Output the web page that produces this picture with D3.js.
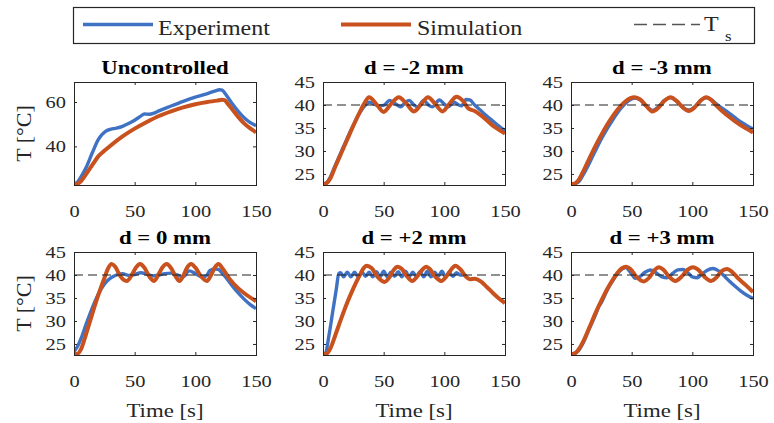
<!DOCTYPE html>
<html>
<head>
<meta charset="utf-8">
<script src="https://cdn.jsdelivr.net/npm/d3@7"></script>
</head>
<body style="margin:0;background:#fff">
<script>
// ---- data ----
const titles = ["Uncontrolled", "d = -2 mm", "d = -3 mm", "d = 0 mm", "d = +2 mm", "d = +3 mm"];
const xTicks = [0, 50, 100, 150];
const yTicksFree = [40, 60];
const yTicksCtrl = [25, 30, 35, 40, 45];
const setPoint = 40;

// Uncontrolled
const expT1 = [0, 3, 6, 10, 15, 20, 23, 26, 30, 35, 40, 45, 50, 55, 58, 62, 66, 70, 80, 90, 100, 110, 116, 120, 122, 125, 130, 135, 140, 145, 150];
const expY1 = [23, 24, 26.5, 30.5, 37, 43, 45.3, 46.8, 47.7, 48.2, 49, 50.3, 51.8, 53.6, 54.6, 54.5, 55, 56, 58.2, 60.3, 62.2, 63.8, 64.9, 65.5, 65.3, 63.5, 59.5, 56, 53, 50.8, 49.3];
const simT1 = [0, 3, 6, 10, 15, 20, 25, 30, 40, 50, 60, 70, 80, 90, 100, 110, 118, 122, 124, 127, 130, 135, 140, 145, 150];
const simY1 = [23, 23.2, 24.5, 27.5, 31.5, 35.5, 38, 40.3, 44.5, 48, 51, 53.7, 55.8, 57.6, 59, 60, 60.6, 61, 60.8, 59, 57, 53.5, 50.5, 48.2, 46.3];

// d = -2 mm
const expT2 = [0, 3, 6, 10, 15, 20, 25, 30, 35, 38, 42, 46, 50, 55, 60, 64, 68, 71, 75, 78, 83, 87, 90, 96, 100, 103, 108, 112, 114, 118, 121, 125, 130, 135, 140, 145, 150];
const expY2 = [22.8, 23.1, 24.3, 26.8, 29.8, 32.8, 35.6, 38.2, 40, 40.6, 40.2, 39.8, 39.9, 41, 40.2, 39.6, 40.6, 41, 40, 39.6, 41, 40, 39.6, 41.1, 40.2, 39.6, 40.6, 40, 39.8, 41.2, 41.1, 40, 38.8, 37.6, 36.5, 35.4, 34.4];
const simT2 = [0, 3, 6, 10, 15, 20, 25, 30, 34, 38, 44, 50, 56, 62.5, 69, 75, 81, 86.5, 92.5, 98.5, 104, 110, 115, 120, 125, 130, 135, 140, 145, 150];
const simY2 = [22.8, 23, 24, 26.5, 29.5, 32.5, 35.5, 38.3, 40.3, 41.7, 40.2, 38.5, 40.2, 41.7, 40.2, 38.6, 40.2, 41.7, 40.2, 38.6, 40.2, 41.8, 41, 39.2, 38.7, 37.8, 36.7, 35.5, 34.6, 33.8];

// d = -3 mm
const expT3 = [0, 3, 6, 10, 15, 20, 25, 30, 35, 40, 45, 50, 53, 57, 62, 67, 72, 77, 82, 87, 92, 97, 102, 107, 112, 116, 120, 125, 130, 135, 140, 145, 150];
const expY3 = [22.8, 22.9, 23.2, 24.8, 27.3, 30, 32.6, 34.9, 37, 38.9, 40.4, 41.3, 41.5, 41.1, 39.8, 38.8, 39.6, 41, 41.6, 40.8, 39.5, 38.9, 39.6, 41, 41.6, 41.1, 40.2, 39.2, 38.3, 37.3, 36.3, 35.5, 34.8];
const simT3 = [0, 3, 6, 10, 15, 20, 25, 30, 35, 40, 45, 49, 52.5, 57, 62, 67, 72, 77, 82, 87, 92, 97, 102, 107, 111.5, 116, 120, 125, 130, 135, 140, 145, 150];
const simY3 = [22.8, 22.9, 23.6, 25.5, 28.3, 31, 33.5, 35.8, 37.8, 39.5, 40.8, 41.5, 41.7, 41.2, 39.8, 38.6, 39.4, 40.9, 41.7, 40.9, 39.5, 38.7, 39.5, 41, 41.7, 41, 39.8, 38.6, 37.5, 36.5, 35.6, 34.8, 34];

// d = 0 mm
const expT4 = [0, 3, 6, 10, 15, 20, 25, 30, 35, 40, 45, 50, 55, 60, 65, 70, 75, 80, 85, 90, 95, 100, 105, 109, 112, 116, 119, 122, 126, 130, 135, 140, 145, 150];
const expY4 = [23.4, 24.5, 26.3, 29.3, 32.8, 35.8, 38, 39.3, 40, 40.3, 39.9, 40.1, 40.5, 40.2, 39.8, 40, 40.3, 40.4, 40, 39.6, 40.9, 40.3, 39.6, 39.8, 41, 41.3, 41.2, 40.4, 39.2, 37.8, 36.2, 34.8, 33.6, 32.7];
const simT4 = [0, 3, 6, 10, 15, 20, 25, 28, 31, 34, 38, 43.5, 48, 51, 54.5, 58, 62, 66, 70, 73, 76.5, 80, 84, 87, 90, 93, 96.5, 100, 105, 109.5, 113, 116, 119, 123, 128, 135, 142, 150];
const simY4 = [22.8, 22.9, 24, 27.2, 31.5, 35.6, 39.3, 41.4, 42.4, 41.8, 39.8, 38.7, 40.2, 41.6, 42.4, 41.6, 39.7, 38.7, 40.3, 41.7, 42.4, 41.5, 39.6, 38.7, 39.8, 41.5, 42.4, 41.6, 39.6, 38.7, 40, 41.6, 42.4, 41.2, 39.2, 37.2, 35.7, 34.3];

// d = +2 mm
const expT5 = [0, 2, 5, 8, 11, 13, 14.5, 17, 20, 23, 26, 29, 32, 35, 38, 41, 44, 47, 50, 53, 56, 59, 62, 65, 68, 71, 74, 77, 80, 83, 86, 89, 92, 95, 98, 101, 104, 107, 110, 113, 116];
const expY5 = [22.8, 23, 27, 32, 37, 40.3, 40.5, 39.6, 40.6, 39.6, 40.6, 39.6, 40.7, 39.7, 40.6, 39.6, 40.7, 39.6, 40.8, 39.6, 40.6, 39.7, 40.7, 39.6, 40.8, 39.6, 40.6, 39.7, 40.7, 39.6, 40.8, 39.6, 40.6, 39.7, 40.8, 39.6, 40.6, 39.7, 40.5, 40, 40];
const simT5 = [0, 3, 6, 10, 15, 20, 25, 30, 33, 36, 40, 45, 50.5, 55, 58, 61.5, 65, 69, 73.5, 78, 82, 85, 88, 92, 97.5, 102, 106, 109, 113, 118, 121, 125, 130, 135, 140, 145, 150];
const simY5 = [22.8, 22.9, 24, 26.8, 30.5, 34, 37.1, 39.8, 41.3, 42, 41.5, 39.6, 38.5, 39.6, 41, 41.8, 41.3, 39.8, 38.7, 39.8, 41.2, 41.8, 41.3, 39.8, 38.7, 39.8, 41.3, 42, 41.3, 39.6, 39.1, 39.2, 38.6, 37.4, 36.1, 34.9, 33.9];

// d = +3 mm
const expT6 = [0, 3, 6, 10, 15, 20, 23, 25, 30, 35, 40, 45, 49, 53, 57, 61, 65.5, 70, 75, 79, 84, 88, 92, 96, 100, 104, 108, 112, 117, 121, 125, 130, 135, 140, 145, 150];
const expY6 = [22.8, 23, 23.5, 25.2, 28.3, 31.2, 33.2, 34, 36.8, 39, 40.8, 41.6, 40.6, 39.3, 39.7, 40.6, 41.1, 40.5, 39.6, 39.4, 40.4, 41.1, 41.2, 40.6, 39.6, 39.4, 40.2, 41, 41.4, 41, 40.1, 38.8, 37.6, 36.5, 35.6, 34.9];
const simT6 = [0, 3, 6, 10, 15, 20, 25, 30, 35, 40, 43, 45.5, 49, 54, 60, 65, 69, 72.5, 76, 81, 86, 91, 96, 100.5, 105, 110, 115.5, 120, 124, 128.5, 133, 138, 144, 150];
const simY6 = [22.8, 22.9, 23.7, 25.5, 28.5, 31.6, 34.4, 37, 39.2, 41, 41.6, 41.8, 41.3, 39.6, 38.6, 39.6, 41.1, 41.7, 41.2, 39.6, 38.7, 39.6, 41.1, 41.7, 41.1, 39.6, 38.7, 39.5, 40.8, 41.3, 40.6, 39.2, 37.8, 36.3];

const pair = (ts, ys) => ts.map((t, i) => [t, ys[i]]);
const panels = [
  { title: titles[0], exp: pair(expT1, expY1), sim: pair(simT1, simY1), yDomain: [22.6, 69], yTicks: yTicksFree, ts: false },
  { title: titles[1], exp: pair(expT2, expY2), sim: pair(simT2, simY2), yDomain: [22.6, 45], yTicks: yTicksCtrl, ts: true },
  { title: titles[2], exp: pair(expT3, expY3), sim: pair(simT3, simY3), yDomain: [22.6, 45], yTicks: yTicksCtrl, ts: true },
  { title: titles[3], exp: pair(expT4, expY4), sim: pair(simT4, simY4), yDomain: [22.6, 45], yTicks: yTicksCtrl, ts: true },
  { title: titles[4], exp: pair(expT5, expY5), sim: pair(simT5, simY5), yDomain: [22.6, 45], yTicks: yTicksCtrl, ts: true },
  { title: titles[5], exp: pair(expT6, expY6), sim: pair(simT6, simY6), yDomain: [22.6, 45], yTicks: yTicksCtrl, ts: true }
];

const blue = "#4072c4";
const red = "#c8511d";
const axisColor = "#262626";
const serif = "'Liberation Serif', 'Times New Roman', serif";

// the reference figure is stretched sideways, so text gets a horizontal scale too
function serifText(sel, origin) {
  sel.style("font-family", serif)
    .style("fill", axisColor)
    .style("transform-box", "fill-box")
    .style("transform-origin", origin || "center")
    .style("transform", "scaleX(1.2)");
}

const svg = d3.select("body").append("svg").attr("width", 774).attr("height", 423);

const colLeft = [74, 323, 571];
const rowTop = [82, 252];
const pw = 182, ph = 103;

panels.forEach((p, i) => {
  const row = Math.floor(i / 3), col = i % 3;
  const g = svg.append("g").attr("transform", "translate(" + colLeft[col] + "," + rowTop[row] + ")");
  const x = d3.scaleLinear().domain([0, 150]).range([0, pw]);
  const y = d3.scaleLinear().domain(p.yDomain).range([ph, 0]);

  g.append("clipPath").attr("id", "clip" + i)
    .append("rect").attr("x", 0).attr("y", 0).attr("width", pw).attr("height", ph);

  const line = d3.line().x(d => x(d[0])).y(d => y(d[1])).curve(d3.curveMonotoneX);
  const plot = g.append("g").attr("clip-path", "url(#clip" + i + ")");
  plot.append("path").datum(p.exp).attr("d", line)
    .attr("fill", "none").attr("stroke", blue).attr("stroke-width", 3.4).attr("stroke-linejoin", "round");
  plot.append("path").datum(p.sim).attr("d", line)
    .attr("fill", "none").attr("stroke", red).attr("stroke-width", 4).attr("stroke-linejoin", "round");
  if (p.ts) {
    plot.append("line").attr("x1", 0).attr("x2", pw).attr("y1", y(setPoint)).attr("y2", y(setPoint))
      .attr("stroke", "#222").attr("stroke-width", 1.2).attr("stroke-dasharray", "9,5");
  }

  // axes, box style with inward ticks on all sides
  const styleAxis = a => {
    a.attr("font-size", 17).attr("font-family", null).attr("color", axisColor);
    a.select(".domain").remove();
  };
  g.append("g").attr("transform", "translate(0," + ph + ")")
    .call(d3.axisBottom(x).tickValues(xTicks).tickSizeInner(-3).tickSizeOuter(0).tickPadding(19.5))
    .call(styleAxis)
    .selectAll("text").call(serifText);
  g.append("g")
    .call(d3.axisTop(x).tickValues(xTicks).tickSizeInner(-3).tickSizeOuter(0).tickFormat(""))
    .call(styleAxis);
  g.append("g")
    .call(d3.axisLeft(y).tickValues(p.yTicks).tickSizeInner(-3).tickSizeOuter(0).tickPadding(8))
    .call(styleAxis)
    .selectAll("text").call(serifText, "right center");
  g.append("g").attr("transform", "translate(" + pw + ",0)")
    .call(d3.axisRight(y).tickValues(p.yTicks).tickSizeInner(-3).tickSizeOuter(0).tickFormat(""))
    .call(styleAxis);

  g.append("rect").attr("x", 0.5).attr("y", 0.5).attr("width", pw).attr("height", ph)
    .attr("fill", "none").attr("stroke", axisColor).attr("stroke-width", 1);

  g.append("text")
    .attr("x", pw / 2).attr("y", -8)
    .attr("text-anchor", "middle").attr("font-size", 19).attr("font-weight", "bold")
    .call(serifText)
    .style("fill", "#000")
    .text(p.title);

  if (col === 0) {
    g.append("text")
      .attr("transform", "translate(-43," + (ph / 2) + ") rotate(-90)")
      .attr("text-anchor", "middle").attr("font-size", 22)
      .style("font-family", serif).style("fill", axisColor)
      .text("T [°C]");
  }
  if (row === 1) {
    g.append("text")
      .attr("x", pw / 2).attr("y", ph + 62)
      .attr("text-anchor", "middle").attr("font-size", 19)
      .call(serifText)
      .text("Time [s]");
  }
});

// legend
const leg = svg.append("g");
leg.append("rect").attr("x", 73.5).attr("y", 7.5).attr("width", 681).attr("height", 36)
  .attr("fill", "#fff").attr("stroke", axisColor).attr("stroke-width", 1.2);
const legY = 24.5;
leg.append("line").attr("x1", 83).attr("x2", 153).attr("y1", legY).attr("y2", legY)
  .attr("stroke", blue).attr("stroke-width", 3.4);
leg.append("text").attr("x", 158).attr("y", 35).attr("font-size", 20)
  .call(serifText, "left center").text("Experiment");
leg.append("line").attr("x1", 341).attr("x2", 411).attr("y1", legY).attr("y2", legY)
  .attr("stroke", red).attr("stroke-width", 4);
leg.append("text").attr("x", 417).attr("y", 35).attr("font-size", 20)
  .call(serifText, "left center").text("Simulation");
leg.append("line").attr("x1", 634).attr("x2", 700).attr("y1", legY).attr("y2", legY)
  .attr("stroke", "#555").attr("stroke-width", 1.3).attr("stroke-dasharray", "13,6");
leg.append("text").attr("x", 704).attr("y", 31).attr("font-size", 20)
  .call(serifText, "left center").text("T");
leg.append("text").attr("x", 725).attr("y", 41.5).attr("font-size", 14)
  .call(serifText, "left center").text("s");
</script>
</body>
</html>
